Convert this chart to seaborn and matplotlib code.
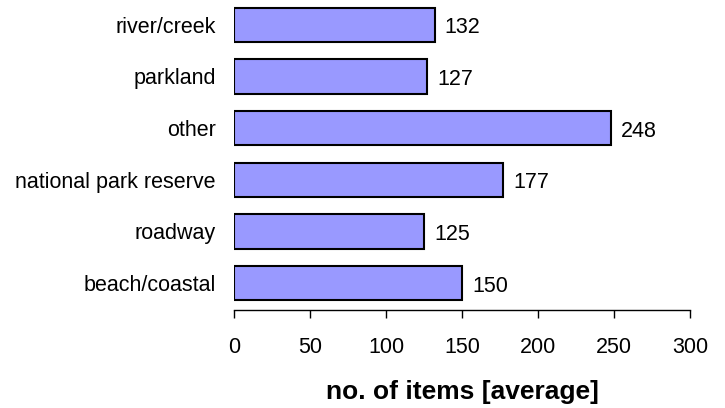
import matplotlib
matplotlib.use("Agg")
import matplotlib.pyplot as plt
import seaborn as sns
import pandas as pd

# data, top to bottom as shown
categories = ["river/creek", "parkland", "other", "national park reserve", "roadway", "beach/coastal"]
values = [132, 127, 248, 177, 125, 150]
x_ticks = [0, 50, 100, 150, 200, 250, 300]

sns.set_style("white")
plt.rcParams['font.family'] = ['Liberation Sans', 'DejaVu Sans']
plt.rcParams['text.color'] = 'black'
plt.rcParams['axes.labelcolor'] = 'black'
plt.rcParams['xtick.color'] = 'black'
plt.rcParams['ytick.color'] = 'black'

df = pd.DataFrame({"category": categories, "value": values})

fig = plt.figure(figsize=(7.25, 4.08), dpi=100)
ax = fig.add_axes([234/725, 98/408, 456/725, 310/408])

sns.barplot(ax=ax, data=df, x="value", y="category", orient="h",
            color="#9999FF", saturation=1, width=0.66,
            edgecolor="black", linewidth=1.5)

# value labels just right of each bar
for i, v in enumerate(values):
    ax.text(v + 6.5, i + 0.06, str(v), va="center", ha="left", fontsize=15.5, color="black")

ax.set_xlim(0, 300)
ax.set_ylim(5.52, -0.48)
ax.set_xticks(x_ticks)
ax.set_xticklabels([str(t) for t in x_ticks])
ax.tick_params(axis="x", direction="out", length=6, width=1, colors="black",
               pad=13.5, bottom=True, labelsize=15.5)
ax.tick_params(axis="y", length=0, pad=13, labelsize=15.5, colors="black")
ax.set_ylabel("")
ax.set_xlabel("no. of items [average]", fontsize=19, fontweight="bold", labelpad=16)

for s in ["top", "right", "left"]:
    ax.spines[s].set_visible(False)
ax.spines["bottom"].set_color("black")
ax.spines["bottom"].set_linewidth(1)

fig.savefig("out.png", dpi=100, facecolor="white")
